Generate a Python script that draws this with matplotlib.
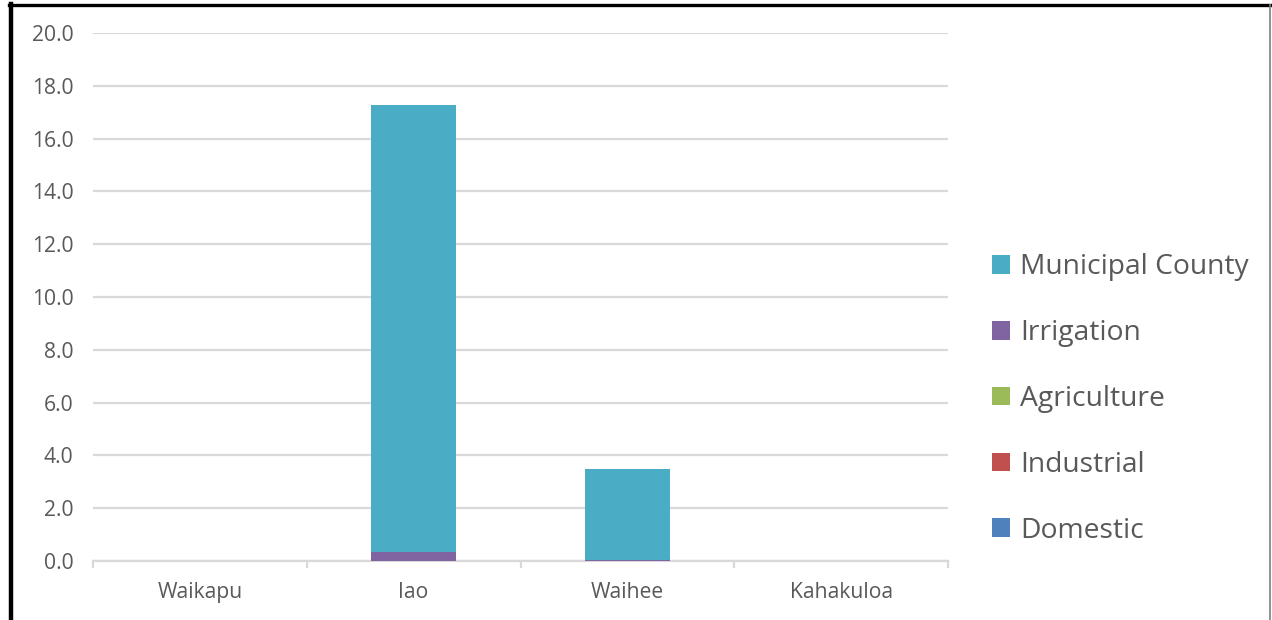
import matplotlib
matplotlib.use("Agg")
import matplotlib.pyplot as plt
from matplotlib.patches import Patch
from matplotlib.lines import Line2D
import numpy as np

plt.rcParams['font.family'] = ['Open Sans', 'DejaVu Sans']

categories = ["Waikapu", "Iao", "Waihee", "Kahakuloa"]
domestic = [0.0, 0.0, 0.0, 0.0]
industrial = [0.0, 0.0, 0.0, 0.0]
agriculture = [0.0, 0.0, 0.0, 0.0]
irrigation = [0.0, 0.34, 0.02, 0.0]
municipal = [0.0, 16.93, 3.46, 0.0]

series_names = ["Domestic", "Industrial", "Agriculture", "Irrigation", "Municipal County"]
series_values = [domestic, industrial, agriculture, irrigation, municipal]
series_colors = ["#4f81bd", "#c0504d", "#9bbb59", "#8064a2", "#4bacc6"]
y_ticks = [0, 2, 4, 6, 8, 10, 12, 14, 16, 18, 20]

W, H = 1272, 620
fig = plt.figure(figsize=(W / 100, H / 100), dpi=100)
ax = fig.add_axes([93 / W, 1 - 561 / H, (948 - 93) / W, (561 - 33) / H])

x = np.arange(len(categories))
bottom = np.zeros(len(categories))
for name, vals, col in zip(series_names, series_values, series_colors):
    vals = np.array(vals)
    ax.bar(x, vals, width=0.4, bottom=bottom, color=col, label=name,
           edgecolor="none", zorder=3)
    bottom += vals

ax.set_xlim(-0.5, len(categories) - 0.5)
ax.set_ylim(0, 20)
ax.set_yticks(y_ticks)
ax.set_yticklabels([f"{v:.1f}" for v in y_ticks])
ax.set_xticks(x)
ax.set_xticklabels(categories)
ax.tick_params(axis="both", length=0, labelsize=15.2, colors="#595959")
ax.tick_params(axis="y", pad=14)
ax.tick_params(axis="x", pad=15)
ax.grid(axis="y", color="#d9d9d9", linewidth=1.6, zorder=0)
ax.set_axisbelow(True)
for s in ["top", "right", "left"]:
    ax.spines[s].set_visible(False)
ax.spines["bottom"].set_color("#d9d9d9")
ax.spines["bottom"].set_linewidth(1.6)

# category separator ticks below the axis
for b in np.arange(-0.5, len(categories), 1.0):
    ax.plot([b, b], [0, -0.22], color="#d9d9d9", linewidth=1.6,
            clip_on=False, zorder=1)

handles = [Patch(facecolor=c, edgecolor="none") for c in series_colors][::-1]
labels = series_names[::-1]
leg = fig.legend(handles, labels, loc="center left",
                 bbox_to_anchor=(967 / W, 1 - 399 / H), frameon=False,
                 fontsize=20.3, labelcolor="#595959", handlelength=0.64,
                 handleheight=0.64, handletextpad=0.35, labelspacing=1.34)

# frame lines around the figure
fig.add_artist(Line2D([11 / W, 11 / W], [0, 1 - 4 / H], color="black",
                      linewidth=3.2, transform=fig.transFigure))
fig.add_artist(Line2D([9 / W, 1], [1 - 5 / H, 1 - 5 / H], color="black",
                      linewidth=2.4, transform=fig.transFigure))
fig.add_artist(Line2D([1270 / W, 1270 / W], [0, 1 - 5 / H], color="#7f7f7f",
                      linewidth=1.2, transform=fig.transFigure))

fig.savefig("out.png", dpi=100)
